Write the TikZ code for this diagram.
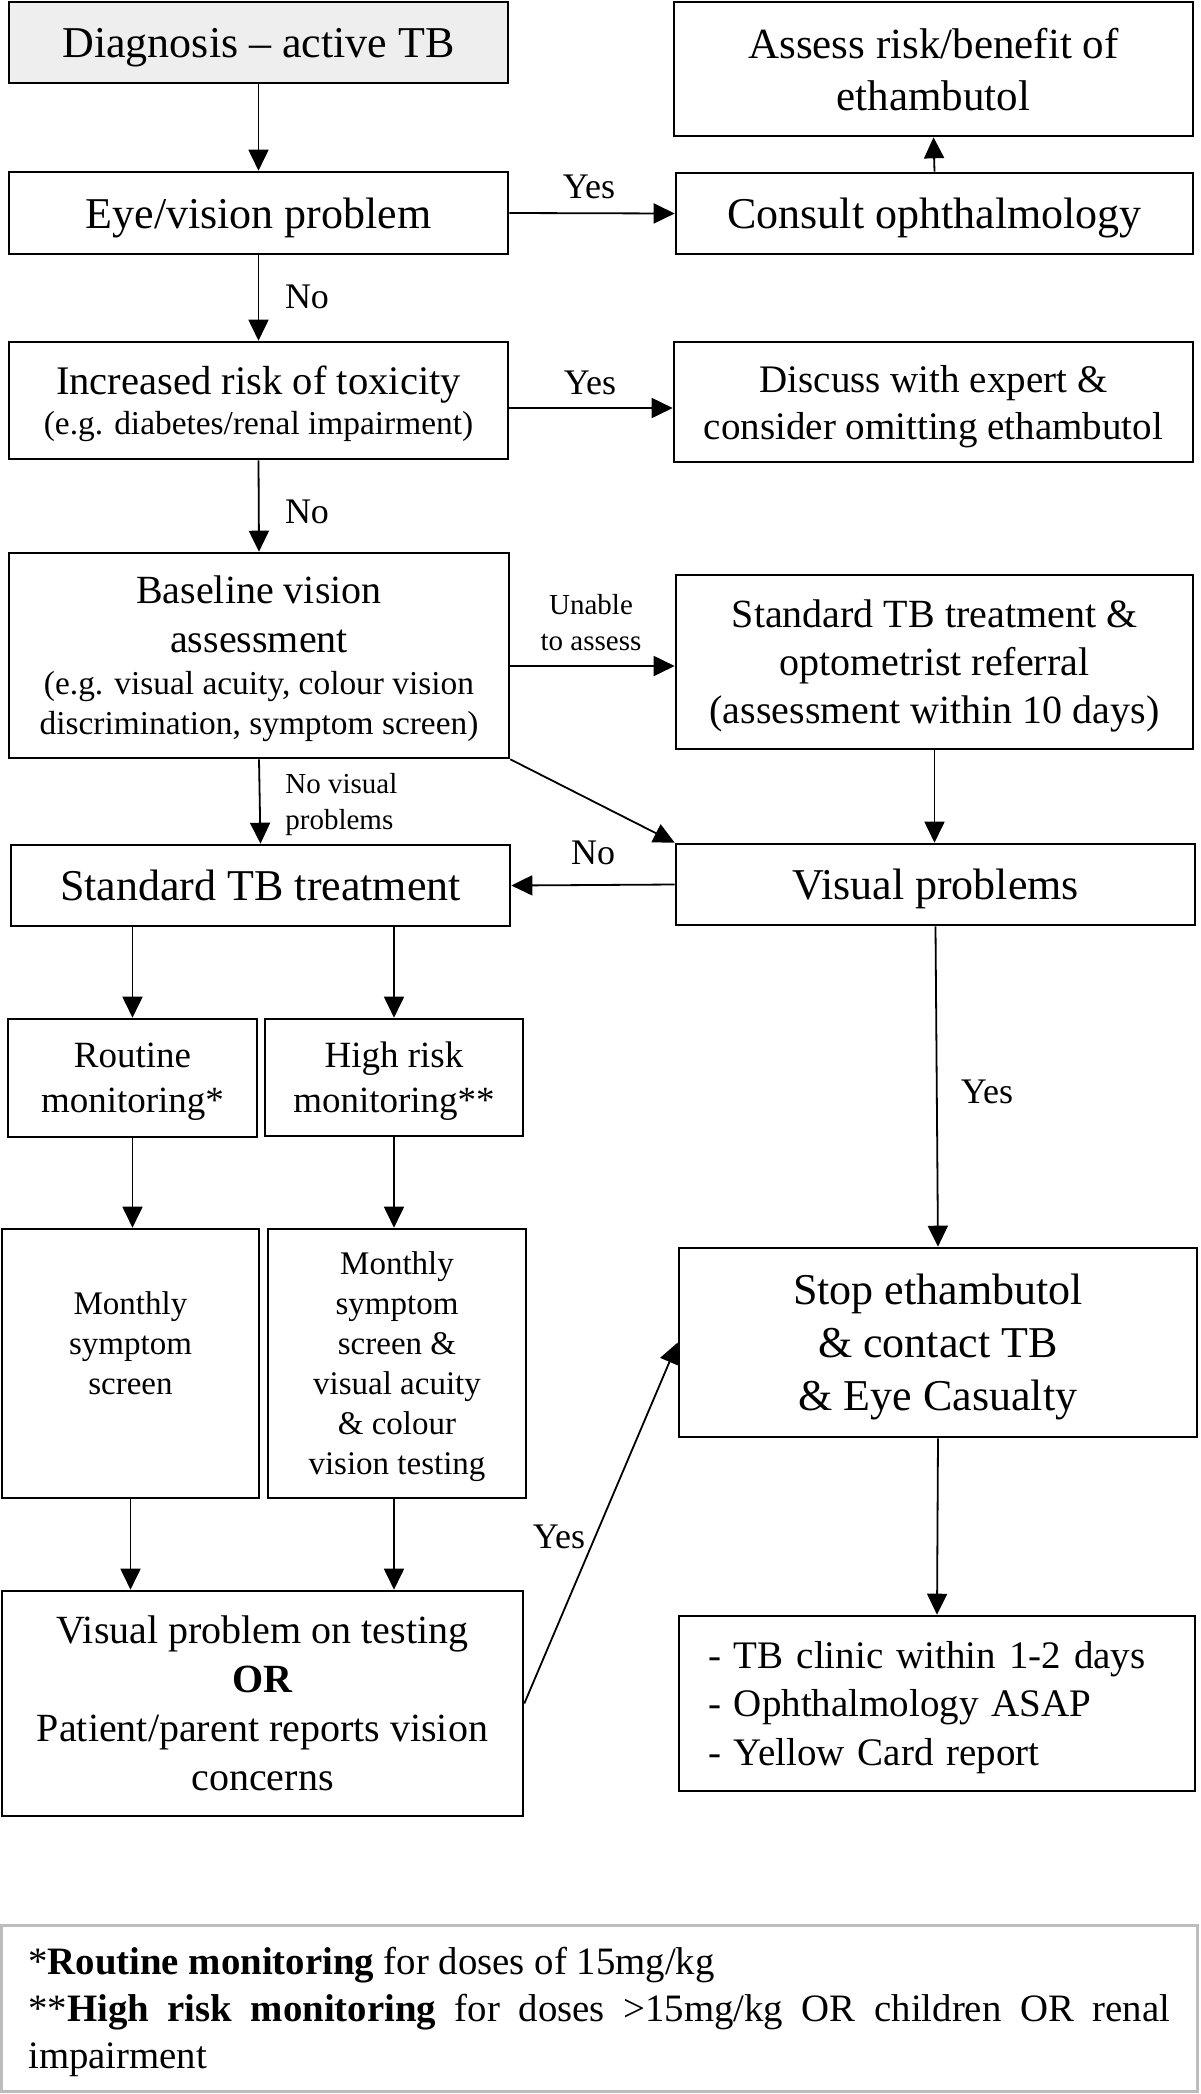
\documentclass[tikz,border=0pt]{standalone}
\usepackage{fontspec}
\setmainfont{Liberation Serif}
\usetikzlibrary{arrows.meta,calc}
\newcommand{\fsz}[2]{\fontsize{#1}{#2}\selectfont}
\definecolor{diagfill}{gray}{0.935}
\definecolor{footline}{gray}{0.74}
\setlength{\parindent}{0pt}
\hyphenpenalty=10000 \exhyphenpenalty=10000
\begin{document}
\begin{tikzpicture}[x=0.5pt,y=-0.5pt,
 box/.style={draw=black, line width=1.3pt, inner sep=0pt, align=center, text depth=0pt, font=\fsz{22}{26.5}},
 arr/.style={draw=black, line width=0.9pt, -{Triangle[length=10.5pt,width=10pt]}},
 lbl/.style={inner sep=0pt, font=\fsz{18}{21}},
 slbl/.style={inner sep=0pt, align=center, font=\fsz{14.5}{18}},
]
\useasboundingbox (0,0) rectangle (1200,2094);

% boxes
\node[box, fill=diagfill, minimum width=249.5pt, minimum height=40.5pt] (diag) at (258.5,42.5) {Diagnosis – active TB};
\node[box, font=\fsz{21.5}{26}, minimum width=259.5pt, minimum height=67pt] (assess) at (933.5,69) {Assess risk/benefit of\\ethambutol};
\node[box, minimum width=249.5pt, minimum height=41pt] (eye) at (258.5,213) {Eye/vision problem};
\node[box, minimum width=258.5pt, minimum height=40.5pt] (consult) at (934.5,213.5) {Consult ophthalmology};
\node[box, font=\fsz{20.3}{20}, minimum width=249.5pt, minimum height=58.5pt] (risk) at (258.5,400.5) {Increased risk of toxicity\\{\fsz{16.7}{20}(e.g. diabetes/renal impairment)}};
\node[box, font=\fsz{19.5}{23.5}, minimum width=259.5pt, minimum height=60pt] (discuss) at (933.5,402) {Discuss with expert \&\\consider omitting ethambutol};
\node[box, font=\fsz{20}{24.5}, minimum width=250pt, minimum height=102.5pt] (base) at (259,655.5) {Baseline vision\\assessment\\[-3.5pt]{\fsz{16.7}{20}(e.g. visual acuity, colour vision}\\[-4.5pt]{\fsz{16.7}{20}discrimination, symptom screen)}};
\node[box, font=\fsz{20}{24}, minimum width=258.5pt, minimum height=87pt] (stdopt) at (934.5,662) {Standard TB treatment \&\\optometrist referral\\(assessment within 10 days)};
\node[box, minimum width=249.5pt, minimum height=40.5pt] (stdtb) at (260.5,885.5) {Standard TB treatment};
\node[box, minimum width=259.5pt, minimum height=40.5pt] (visprob) at (935.5,884.5) {Visual problems};
\node[box, font=\fsz{18.5}{22.5}, minimum width=124.5pt, minimum height=59pt] (routine) at (132.5,1078) {Routine\\monitoring*};
\node[box, font=\fsz{18.5}{22.5}, minimum width=129pt, minimum height=58.5pt] (high) at (394,1077.5) {High risk\\monitoring**};
\node[box, font=\fsz{16.5}{20}, minimum width=128.5pt, minimum height=134.5pt] (month1) at (130.5,1363.5) {Monthly\\symptom\\screen\\\mbox{}};
\node[box, font=\fsz{16.5}{20}, minimum width=129pt, minimum height=134.5pt] (month2) at (397,1363.5) {Monthly\\symptom\\screen \&\\visual acuity\\\& colour\\vision testing};
\node[box, font=\fsz{22}{26.5}, minimum width=259pt, minimum height=94.5pt] (stop) at (938,1342.5) {Stop ethambutol\\\& contact TB\\\& Eye Casualty};
\node[box, font=\fsz{20}{24.5}, minimum width=260.5pt, minimum height=112.5pt] (vpt) at (262.5,1703.5) {Visual problem on testing\\\textbf{OR}\\Patient/parent reports vision\\concerns};
\node[box, font=\fsz{19.5}{24.25}, align=left, text width=229pt, text depth=, text height=17.3pt, minimum width=258pt, minimum height=87.5pt] (clinic) at (937,1703.5) {- TB clinic within 1-2 days\\- Ophthalmology ASAP\\- Yellow Card report};
\node[box, draw=footline, line width=1.5pt, font=\fsz{19.4}{23.5}, align=justify, text width=571pt, text depth=, text height=17.4pt, minimum width=597.75pt, minimum height=83pt] (foot) at (599.25,2008) {*\textbf{Routine monitoring} for doses of 15mg/kg\par **\textbf{High risk monitoring} for doses >15mg/kg OR children OR renal impairment};

% connectors
\draw[arr] (diag.south) -- (eye.north);
\draw[arr] (eye.east) -- (consult.west);
\draw[arr] (consult.north) -- (assess.south);
\draw[arr] (eye.south) -- (risk.north);
\draw[arr] ([yshift=-3.75pt]risk.east) -- ([yshift=-3.75pt]risk.east -| discuss.west);
\draw[arr] (risk.south) -- (base.north);
\draw[arr] ([yshift=-5.25pt]base.east) -- ([yshift=-5.25pt]base.east -| stdopt.west);
\draw[arr] (base.south) -- (stdtb.north);
\draw[arr] (base.south east) -- (visprob.north west);
\draw[arr] (stdopt.south) -- (stdopt.south |- visprob.north);
\draw[arr] (visprob.west) -- (stdtb.east);
\draw[arr] (stdtb.south -| routine.north) -- (routine.north);
\draw[arr] (stdtb.south -| high.north) -- (high.north);
\draw[arr] (routine.south) -- (routine.south |- month1.north);
\draw[arr] (high.south) -- (high.south |- month2.north);
\draw[arr] (month1.south) -- (month1.south |- vpt.north);
\draw[arr] (month2.south -| high.south) -- (vpt.north -| high.south);
\draw[arr] (visprob.south) -- (stop.north);
\draw[arr] (vpt.east) -- (stop.west);
\draw[arr] (stop.south) -- (clinic.north);

% labels
\node[lbl] (l1) at (589,187) {Yes};
\node[lbl] (l2) at (307,297) {No};
\node[lbl] (l3) at (590,383) {Yes};
\node[lbl] (l4) at (307,512) {No};
\node[slbl] (l5) at (591,623) {Unable\\to assess};
\node[slbl, align=left, anchor=west] (l6) at (285,805) {No visual\\problems};
\node[lbl] (l7) at (593,853) {No};
\node[lbl] (l8) at (987,1092) {Yes};
\node[lbl] (l9) at (559,1537) {Yes};
\end{tikzpicture}
\end{document}
